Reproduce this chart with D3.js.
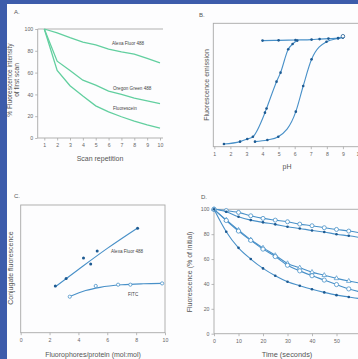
<!DOCTYPE html>
<html>
<head>
<meta charset="utf-8">
<script src="https://cdn.jsdelivr.net/npm/d3@7"></script>
<style>
  body { margin: 0; background: #fff; }
  svg { display: block; font-family: "Liberation Sans", Arial, sans-serif; }
</style>
</head>
<body>
<figure id="chart" style="margin:0"></figure>
<script>
// A. photobleaching per scan
const scanRepetition = [1, 2, 3, 4, 5, 6, 7, 8, 9, 10];
const alexaScan = [100, 96.5, 92, 88, 85.5, 81.5, 79, 77, 73, 69];
const oregonScan = [100, 70.5, 62, 53, 48.5, 43, 40, 36.5, 34, 31.5];
const fluoresceinScan = [100, 62, 48, 38.5, 29.5, 24, 19.5, 15.5, 12, 9];
const scanLabels = ["Alexa Fluor 488", "Oregon Green 488", "Fluorescein"];

// B. pH dependence
const phAlexa = [4, 5, 6.05, 7.05, 7.55, 8.1, 8.7, 9];
const emAlexa = [86, 86.2, 86.5, 86.8, 87.2, 87.6, 88, 88.6];
const phOregon = [1.6, 2.6, 3.05, 3.4, 4.15, 4.25, 4.87, 5.12, 5.6, 5.87, 6.16];
const emOregon = [2.2, 4.1, 6.2, 8.1, 27.6, 31, 52.7, 60, 79, 83.2, 86];
const phFluor = [3.53, 4.3, 4.98, 6.07, 6.53, 7.05, 7.98, 8.7, 9];
const emFluor = [4.1, 5.4, 8.1, 28.4, 49.2, 70.8, 85.1, 87.8, 88.6];

// C. conjugate fluorescence vs degree of labeling
const dolAlexa = [2.4, 3.15, 4.35, 4.85, 5.3, 8.1];
const conjAlexa = [36.5, 42.5, 58.5, 53.8, 64, 81.7];
const fitAlexaX = [2.4, 4, 6, 8.1];
const fitAlexaY = [36, 49.5, 66, 82];
const dolFitc = [3.4, 5.2, 6.75, 7.6, 9.8];
const conjFitc = [28.2, 36.6, 37.6, 37.6, 38.6];
const fitFitcX = [3.4, 4.5, 5.5, 7, 8.5, 9.8];
const fitFitcY = [28.3, 33, 35.5, 37.5, 38.3, 38.6];

// D. photobleaching over time
const timeSec = [0, 5, 10, 15, 20, 25, 30, 35, 40, 45, 50, 55, 60];
const seriesOpenTop = [100, 99, 97.5, 94.8, 92.7, 91.3, 90, 88.1, 86.8, 85.2, 83.8, 82.5, 81];
const seriesFilledTop = [100, 98, 94, 91.3, 89.5, 87.9, 86, 84.6, 83, 81.7, 80, 78.7, 77.2];
const seriesTriangle = [100, 91.5, 83.3, 75.5, 69, 63, 56.5, 53, 49.5, 47, 44.5, 42.3, 40.5];
const seriesOpenMid = [100, 91, 82.5, 75, 68, 62, 55, 50.5, 46.6, 43.1, 39.5, 36, 33.5];
const seriesFilledLow = [100, 82, 69, 60, 52.5, 46.6, 41.8, 38.6, 35.7, 33.2, 31, 29.5, 28];

const W = 358, H = 359;
const axisGray = "#a8a8a8";
const textGray = "#555";
const green = "#62cf9f";
const blue = "#4890c8";
const dotBlue = "#1d5a92";

const svg = d3.select("#chart").append("svg")
  .attr("width", W)
  .attr("height", H);

svg.append("rect").attr("width", W).attr("height", H).attr("fill", "#fdfdfe");
svg.append("rect").attr("width", 7).attr("height", H).attr("fill", "#3d5cab");
svg.append("rect").attr("width", W).attr("height", 4).attr("fill", "#3d5cab");

function zip(xs, ys) { return xs.map((x, i) => [x, ys[i]]); }

function panelLetter(txt, x, y) {
  svg.append("text").attr("x", x).attr("y", y).text(txt)
    .attr("font-size", 6).attr("fill", textGray);
}

function hLine(x1, x2, y) {
  svg.append("line").attr("x1", x1).attr("x2", x2).attr("y1", y).attr("y2", y)
    .attr("stroke", axisGray).attr("stroke-width", 0.9);
}

function vLine(x, y1, y2) {
  svg.append("line").attr("x1", x).attr("x2", x).attr("y1", y1).attr("y2", y2)
    .attr("stroke", axisGray).attr("stroke-width", 0.9);
}

function styleAxis(g, size) {
  g.select(".domain").remove();
  g.selectAll("line").attr("stroke", axisGray).attr("stroke-width", 0.8);
  g.selectAll("text").attr("fill", "#666").attr("font-size", size)
    .attr("font-family", "Liberation Sans, Arial, sans-serif");
}

function yTitle(lines, x, y, size) {
  const t = svg.append("text")
    .attr("transform", "translate(" + x + "," + y + ") rotate(-90)")
    .attr("text-anchor", "middle").attr("font-size", size).attr("fill", textGray);
  lines.forEach((s, i) => {
    t.append("tspan").attr("x", 0).attr("dy", i === 0 ? 0 : size * 1.05).text(s);
  });
}

function xTitle(txt, x, y, size) {
  svg.append("text").attr("x", x).attr("y", y).attr("text-anchor", "middle")
    .attr("font-size", size).attr("fill", textGray).text(txt);
}

function note(txt, x, y) {
  svg.append("text").attr("x", x).attr("y", y).attr("font-size", 4.6)
    .attr("fill", "#444").text(txt);
}

// ---------- A ----------
function drawA() {
  const x = d3.scaleLinear().domain([1, 10]).range([44.3, 160]);
  const y = d3.scaleLinear().domain([0, 100]).range([138, 29]);
  panelLetter("A.", 14, 14);
  vLine(37.7, 29, 138);
  hLine(37.7, 163, 138);
  hLine(37.7, 163, y(100));

  svg.append("g").attr("transform", "translate(37.7,0)")
    .call(d3.axisLeft(y).tickValues([0, 20, 40, 60, 80, 100]).tickSize(2.5).tickPadding(2))
    .call(g => styleAxis(g, 5.2));
  svg.append("g").attr("transform", "translate(0,138)")
    .call(d3.axisBottom(x).tickValues(scanRepetition).tickFormat(d3.format("d")).tickSize(2.5).tickPadding(2.5))
    .call(g => styleAxis(g, 5.2));

  const line = d3.line().x(d => x(d[0])).y(d => y(d[1]));
  [alexaScan, oregonScan, fluoresceinScan].forEach(s => {
    svg.append("path").datum(zip(scanRepetition, s)).attr("d", line)
      .attr("fill", "none").attr("stroke", green).attr("stroke-width", 1.3);
  });

  note(scanLabels[0], 112, 45);
  note(scanLabels[1], 113, 90);
  note(scanLabels[2], 113, 110);

  yTitle(["% Fluorescence intensity", "of first scan"], 12, 80, 6.6);
  xTitle("Scan repetition", 100, 161, 7);
}

// ---------- B ----------
function drawB() {
  const x = d3.scaleLinear().domain([1, 10]).range([214.3, 359]);
  const y = d3.scaleLinear().domain([0, 100]).range([146.7, 23.3]);
  panelLetter("B.", 199, 17);
  svg.append("rect").attr("x", 213.3).attr("y", 23.3).attr("width", 150).attr("height", 123.4)
    .attr("fill", "none").attr("stroke", axisGray).attr("stroke-width", 0.9);

  svg.append("g").attr("transform", "translate(0,146.7)")
    .call(d3.axisBottom(x).tickValues(d3.range(1, 11)).tickFormat(d3.format("d")).tickSize(2.5).tickPadding(3))
    .call(g => styleAxis(g, 5.2));

  const line = d3.line().x(d => x(d[0])).y(d => y(d[1])).curve(d3.curveMonotoneX);
  [[phAlexa, emAlexa], [phOregon, emOregon], [phFluor, emFluor]].forEach(([xs, ys]) => {
    const pts = zip(xs, ys);
    svg.append("path").datum(pts).attr("d", line)
      .attr("fill", "none").attr("stroke", blue).attr("stroke-width", 1.1);
    svg.append("g").selectAll("circle").data(pts).join("circle")
      .attr("cx", d => x(d[0])).attr("cy", d => y(d[1])).attr("r", 1.3)
      .attr("fill", dotBlue);
  });
  // open end marker on the flat series
  svg.append("circle").attr("cx", x(9)).attr("cy", y(89.5)).attr("r", 1.8)
    .attr("fill", "#fff").attr("stroke", dotBlue).attr("stroke-width", 0.8);

  yTitle(["Fluorescence emission"], 209, 85, 7);
  xTitle("pH", 287, 169, 7);
}

// ---------- C ----------
function drawC() {
  const x = d3.scaleLinear().domain([0, 10]).range([20.7, 165]);
  const y = d3.scaleLinear().domain([0, 100]).range([332.7, 205]);
  panelLetter("C.", 14, 198);
  svg.append("rect").attr("x", 20.7).attr("y", 205).attr("width", 144.3).attr("height", 127.7)
    .attr("fill", "none").attr("stroke", axisGray).attr("stroke-width", 0.9);

  svg.append("g").attr("transform", "translate(0,332.7)")
    .call(d3.axisBottom(x).tickValues([0, 2, 4, 6, 8, 10]).tickFormat(d3.format("d")).tickSize(2.5).tickPadding(3))
    .call(g => styleAxis(g, 5.2));

  const line = d3.line().x(d => x(d[0])).y(d => y(d[1])).curve(d3.curveMonotoneX);
  svg.append("path").datum(zip(fitAlexaX, fitAlexaY)).attr("d", line)
    .attr("fill", "none").attr("stroke", blue).attr("stroke-width", 1.1);
  svg.append("path").datum(zip(fitFitcX, fitFitcY)).attr("d", line)
    .attr("fill", "none").attr("stroke", blue).attr("stroke-width", 1.1);

  svg.append("g").selectAll("circle").data(zip(dolAlexa, conjAlexa)).join("circle")
    .attr("cx", d => x(d[0])).attr("cy", d => y(d[1])).attr("r", 1.5).attr("fill", dotBlue);
  svg.append("g").selectAll("circle").data(zip(dolFitc, conjFitc)).join("circle")
    .attr("cx", d => x(d[0])).attr("cy", d => y(d[1])).attr("r", 1.6)
    .attr("fill", "#fff").attr("stroke", blue).attr("stroke-width", 0.8);

  note("Alexa Fluor 488", 111, 253);
  note("FITC", 128, 296);

  yTitle(["Conjugate fluorescence"], 13, 268, 7);
  xTitle("Fluorophores/protein (mol:mol)", 93, 356.5, 7);
}

// ---------- D ----------
function drawD() {
  const x = d3.scaleLinear().domain([0, 60]).range([214, 361]);
  const y = d3.scaleLinear().domain([0, 100]).range([333.7, 209.3]);
  panelLetter("D.", 201, 199);
  vLine(214, 209.3, 333.7);
  hLine(214, W, 333.7);
  hLine(214, W, y(100));

  svg.append("g").attr("transform", "translate(214,0)")
    .call(d3.axisLeft(y).tickValues([0, 20, 40, 60, 80, 100]).tickSize(2.5).tickPadding(2))
    .call(g => styleAxis(g, 5.2));
  svg.append("g").attr("transform", "translate(0,333.7)")
    .call(d3.axisBottom(x).tickValues([0, 10, 20, 30, 40, 50, 60]).tickSize(2.5).tickPadding(3))
    .call(g => styleAxis(g, 5.2));

  const line = d3.line().x(d => x(d[0])).y(d => y(d[1])).curve(d3.curveMonotoneX);
  const series = [
    { v: seriesOpenTop, m: "open", r: 2 },
    { v: seriesFilledTop, m: "dot", r: 1.3 },
    { v: seriesTriangle, m: "tri", r: 1.6 },
    { v: seriesOpenMid, m: "open", r: 2.1 },
    { v: seriesFilledLow, m: "dot", r: 1.3 }
  ];
  series.forEach(s => {
    const pts = zip(timeSec, s.v);
    svg.append("path").datum(pts).attr("d", line)
      .attr("fill", "none").attr("stroke", blue).attr("stroke-width", 1.1);
    const g = svg.append("g");
    if (s.m === "tri") {
      g.selectAll("path").data(pts).join("path")
        .attr("d", d3.symbol(d3.symbolTriangle, 9))
        .attr("transform", d => "translate(" + x(d[0]) + "," + y(d[1]) + ")")
        .attr("fill", "#fff").attr("stroke", blue).attr("stroke-width", 0.7);
    } else {
      g.selectAll("circle").data(pts).join("circle")
        .attr("cx", d => x(d[0])).attr("cy", d => y(d[1])).attr("r", s.r)
        .attr("fill", s.m === "dot" ? dotBlue : "#fff")
        .attr("stroke", s.m === "dot" ? "none" : blue).attr("stroke-width", 0.8);
    }
  });

  yTitle(["Fluorescence (% of initial)"], 192, 272, 7);
  xTitle("Time (seconds)", 287, 356.5, 7.4);
}

drawA();
drawB();
drawC();
drawD();
</script>
</body>
</html>
